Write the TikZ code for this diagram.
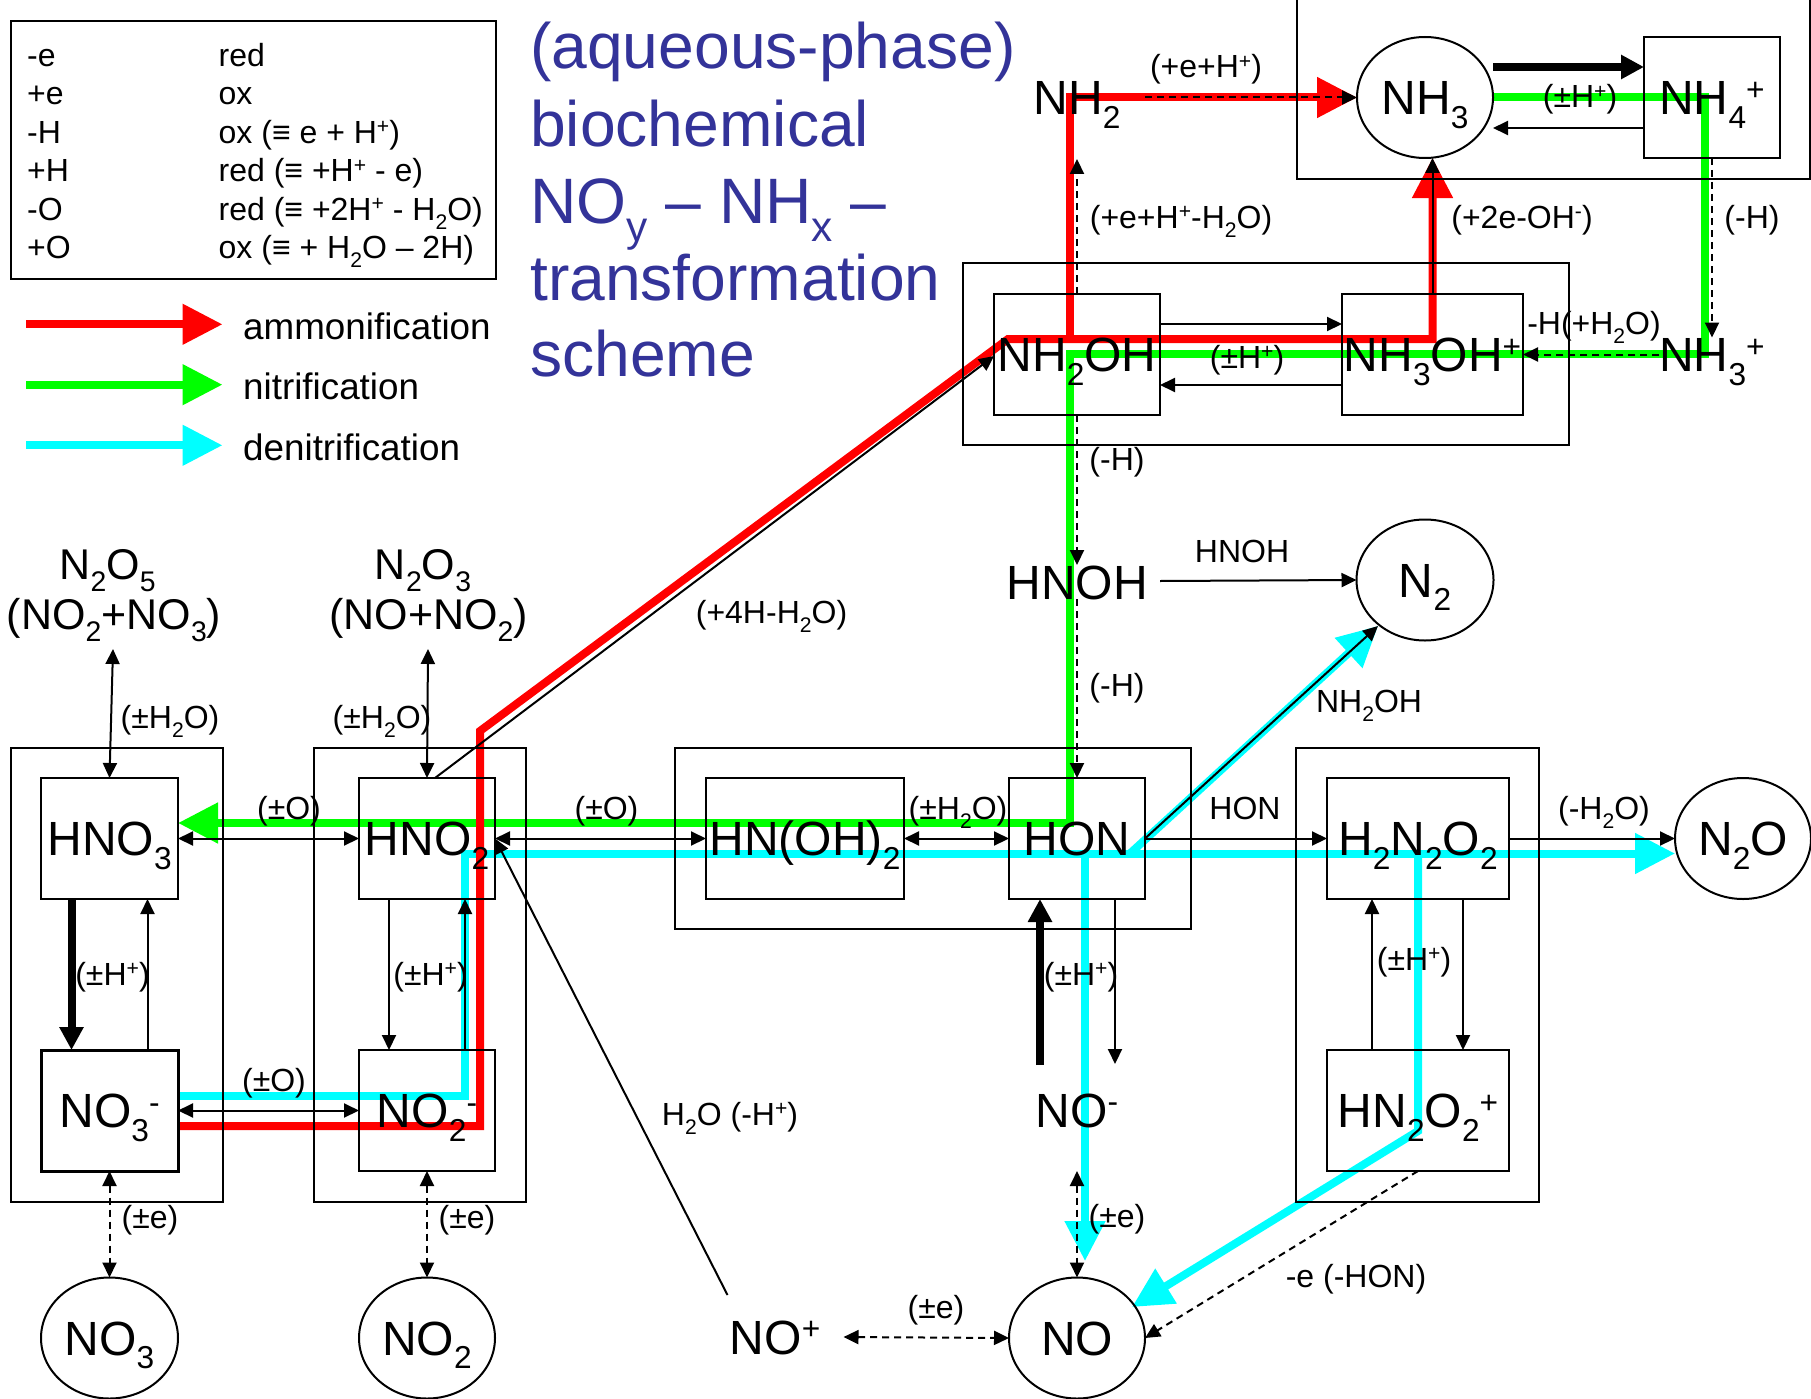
\documentclass[tikz,border=0pt]{standalone}
\usepackage{fontspec}
\setmainfont{Liberation Sans}
\usetikzlibrary{arrows.meta,shapes.geometric,backgrounds}
\definecolor{titleblue}{RGB}{51,51,153}
\definecolor{ammonred}{RGB}{255,0,0}
\definecolor{nitrigreen}{RGB}{0,255,0}
\definecolor{denitricyan}{RGB}{0,255,255}
\newcommand{\subtxt}[1]{\raisebox{-.29em}{\scalebox{.66}{#1}}}
\newcommand{\suptxt}[1]{\raisebox{.3em}{\scalebox{.66}{#1}}}
\tikzset{
	species/.style={inner sep=0pt, outer sep=0pt, font=\fontsize{48}{50}\selectfont, text height=34pt, text depth=0pt},
	spbox/.style={species, draw, line width=2pt, minimum height=121pt},
	spcircle/.style={species, draw, line width=2pt, ellipse, minimum height=121pt},
	groupbox/.style={draw, line width=2pt, inner sep=0pt, outer sep=0pt},
	note/.style={inner sep=0pt, anchor=base, font=\fontsize{32}{34}\selectfont},
	keytext/.style={inner sep=0pt, anchor=base west, font=\fontsize{32}{34}\selectfont},
	pathname/.style={inner sep=0pt, anchor=base west, font=\fontsize{36.8}{38}\selectfont},
	headline/.style={inner sep=0pt, anchor=base west, text=titleblue, font=\fontsize{64.2}{66}\selectfont},
	oxide/.style={inner sep=0pt, anchor=base, font=\fontsize{43}{45}\selectfont},
	link/.style={line width=2pt, >={Triangle[length=15pt,width=14pt]}},
	dashlink/.style={link, dash pattern=on 7pt off 5pt},
	heavylink/.style={line width=8pt, -{Triangle[length=23pt,width=23pt]}},
	routeline/.style={line width=8pt, line join=miter, -{Triangle[length=40pt,width=39pt]}},
	keyarrow/.style={line width=8pt, -{Triangle[length=40pt,width=39pt]}}
}
\begin{document}
\begin{tikzpicture}[x=1pt,y=-1pt]
	\useasboundingbox (0,0) rectangle (1811,1399);

	% Group frames
	\node[groupbox, minimum width=212pt, minimum height=454pt] (groupnitrate) at (117,975) {};
	\node[groupbox, minimum width=212pt, minimum height=454pt] (groupnitrite) at (420,975) {};
	\node[groupbox, minimum width=516pt, minimum height=181pt] (grouphon) at (933,838.5) {};
	\node[groupbox, minimum width=242.5pt, minimum height=454pt] (grouphyponitrous) at (1417.7,975) {};
	\node[groupbox, minimum width=606pt, minimum height=182pt] (grouphydroxylamine) at (1266,354) {};
	\draw[line width=2pt] (1296.5,0) -- (1296.5,179) -- (1810,179) -- (1810,0);

	% Key box
	\node[draw, line width=2.5pt, inner sep=0pt, minimum width=485pt, minimum height=258pt] (keybox) at (253.5,150) {};
	\node[keytext] (keyeminus) at (27,66.7) {-e};
	\node[keytext] (keyeplus) at (27,105) {+e};
	\node[keytext] (keyhminus) at (27,143.3) {-H};
	\node[keytext] (keyhplus) at (27,181.7) {+H};
	\node[keytext] (keyominus) at (27,220) {-O};
	\node[keytext] (keyoplus) at (27,258.3) {+O};
	\node[keytext] (meaneminus) at (218.5,66.7) {red};
	\node[keytext] (meaneplus) at (218.5,105) {ox};
	\node[keytext] (meanhminus) at (218.5,143.3) {ox (≡ e + H\suptxt{+})};
	\node[keytext] (meanhplus) at (218.5,181.7) {red (≡ +H\suptxt{+} - e)};
	\node[keytext] (meanominus) at (218.5,220) {red (≡ +2H\suptxt{+} - H\subtxt{2}O)};
	\node[keytext] (meanoplus) at (218.5,258.3) {ox (≡ + H\subtxt{2}O – 2H)};

	% Route key
	\node[pathname] (nameammon) at (243,339.3) {ammonification};
	\node[pathname] (namenitri) at (243,399.3) {nitrification};
	\node[pathname] (namedenitri) at (243,460) {denitrification};
	\coordinate (startammon) at (26,324.3);
	\coordinate (endammon) at (222.5,324.3);
	\coordinate (startnitri) at (26,384.7);
	\coordinate (endnitri) at (222.5,384.7);
	\coordinate (startdenitri) at (26,445.3);
	\coordinate (enddenitri) at (222.5,445.3);
	\draw[keyarrow, ammonred] (startammon) -- (endammon);
	\draw[keyarrow, nitrigreen] (startnitri) -- (endnitri);
	\draw[keyarrow, denitricyan] (startdenitri) -- (enddenitri);

	% Title
	\node[headline] (titleone) at (530,69) {(aqueous-phase)};
	\node[headline] (titletwo) at (530,147) {biochemical};
	\node[headline] (titlethree) at (530,223) {NO\subtxt{y} – NH\subtxt{x} –};
	\node[headline] (titlefour) at (530,300) {transformation};
	\node[headline] (titlefive) at (530,376) {scheme};

	% Species
	\node[spcircle, minimum width=136pt] (nhthree) at (1425,97.5) {NH\subtxt{3}};
	\node[spbox, minimum width=136pt] (nhfour) at (1712,97.5) {NH\subtxt{4}\suptxt{+}};
	\node[species] (nhtwo) at (1077,97.5) {NH\subtxt{2}};
	\node[spbox, minimum width=166pt] (nhtwooh) at (1077,354.5) {NH\subtxt{2}OH};
	\node[spbox, minimum width=181pt] (nhthreeoh) at (1432.5,354.5) {NH\subtxt{3}OH\suptxt{+}};
	\node[species] (nhthreeplus) at (1712,354.5) {NH\subtxt{3}\suptxt{+}};
	\node[species] (hnoh) at (1077,582) {HNOH};
	\node[spcircle, minimum width=137pt] (ntwo) at (1425,580) {N\subtxt{2}};
	\node[spbox, minimum width=137pt] (hnothree) at (109.5,838.5) {HNO\subtxt{3}};
	\node[spbox, minimum width=136pt] (hnotwo) at (427,838.5) {HNO\subtxt{2}};
	\node[spbox, minimum width=198pt] (hnoh2) at (805,838.5) {HN(OH)\subtxt{2}};
	\node[spbox, minimum width=136pt] (hon) at (1077,838.5) {HON};
	\node[spbox, minimum width=182pt] (htwontwo) at (1418,838.5) {H\subtxt{2}N\subtxt{2}O\subtxt{2}};
	\node[spcircle, minimum width=136pt] (ntwoo) at (1743,838.5) {N\subtxt{2}O};
	\node[spbox, line width=3pt, minimum width=137pt] (nothreeminus) at (109.5,1110.5) {NO\subtxt{3}\suptxt{-}};
	\node[spbox, minimum width=136pt] (notwominus) at (427,1110.5) {NO\subtxt{2}\suptxt{-}};
	\node[species] (nominus) at (1077,1110) {NO\suptxt{-}};
	\node[spbox, minimum width=182pt] (hntwo) at (1418,1110.5) {HN\subtxt{2}O\subtxt{2}\suptxt{+}};
	\node[spcircle, minimum width=137pt] (nothree) at (109.5,1338) {NO\subtxt{3}};
	\node[spcircle, minimum width=136pt] (notwo) at (427,1338) {NO\subtxt{2}};
	\node[species] (noplus) at (775,1337) {NO\suptxt{+}};
	\node[spcircle, minimum width=136pt] (no) at (1077,1338) {NO};

	% Oxides
	\node[oxide] (ntwoofive) at (107.5,579) {N\subtxt{2}O\subtxt{5}};
	\node[oxide] (ntwoofivepair) at (114,629) {(NO\subtxt{2}+NO\subtxt{3})};
	\node[oxide] (ntwoothree) at (423,579) {N\subtxt{2}O\subtxt{3}};
	\node[oxide] (ntwoothreepair) at (428.5,629) {(NO+NO\subtxt{2})};
	\coordinate (fivefoot) at (113,649);
	\coordinate (threefoot) at (428,649);

	% Coordinates of the routes
	\coordinate (redstart) at (178,1126);
	\coordinate (redcornera) at (480,1126);
	\coordinate (redcornerb) at (480,731);
	\coordinate (redcornerc) at (1008,339);
	\coordinate (redbranch) at (1070,339);
	\coordinate (redcornerd) at (1432.5,339);
	\coordinate (redcornere) at (1070,97.5);
	\coordinate (greenstart) at (1493,97.5);
	\coordinate (greencornera) at (1705,97.5);
	\coordinate (greencornerb) at (1705,354);
	\coordinate (greencornerc) at (1070,354);
	\coordinate (greencornerd) at (1070,823);
	\coordinate (greenend) at (178,823);
	\coordinate (cyanstart) at (178,1096);
	\coordinate (cyancornera) at (465,1096);
	\coordinate (cyancornerb) at (465,853.5);
	\coordinate (cyanend) at (1675,853.5);
	\coordinate (cyanhon) at (1085,853.5);
	\coordinate (cyanhonend) at (1085,1261);
	\coordinate (cyantilt) at (1130,853.5);
	\coordinate (ntwotip) at (1378,626);
	\coordinate (cyanhyper) at (1418,853.5);
	\coordinate (cyanhypera) at (1418,1131);
	\coordinate (notip) at (1132,1307);

	% Routes under everything
	\begin{scope}[on background layer]
		\draw[routeline, denitricyan] (cyanhon) -- (cyanhonend);
		\draw[routeline, denitricyan] (cyantilt) -- (ntwotip);
		\draw[routeline, denitricyan] (cyanhyper) -- (cyanhypera) -- (notip);
		\draw[routeline, denitricyan] (cyanstart) -- (cyancornera) -- (cyancornerb) -- (cyanend);
		\draw[routeline, nitrigreen] (greenstart) -- (greencornera) -- (greencornerb) -- (greencornerc) -- (greencornerd) -- (greenend);
		\draw[routeline, ammonred] (redbranch) -- (redcornere) -- (nhthree.west);
		\draw[routeline, ammonred] (redstart) -- (redcornera) -- (redcornerb) -- (redcornerc) -- (redcornerd) -- (nhthreeoh.north |- nhthree.south);
	\end{scope}

	% Links of the upper part
	\draw[heavylink] (nhthree.east |- 0,67) -- (nhfour.west |- 0,67);
	\draw[link, ->] (nhfour.west |- 0,128) -- (nhthree.east |- 0,128);
	\draw[dashlink, ->] (1145,97.5) -- (nhthree.west);
	\draw[dashlink, ->] (nhtwooh.north) -- (1077,159);
	\draw[link, ->] (nhthreeoh.north) -- (nhthreeoh.north |- nhthree.south);
	\draw[link, ->] (nhtwooh.east |- 0,324) -- (nhthreeoh.west |- 0,324);
	\draw[link, ->] (nhthreeoh.west |- 0,385) -- (nhtwooh.east |- 0,385);
	\draw[dashlink, ->] (nhfour.south) -- (nhthreeplus.north);
	\draw[dashlink, ->] (nhthreeplus.west) -- (nhthreeoh.east);
	\draw[dashlink, ->] (nhtwooh.south) -- (hnoh.north);
	\draw[dashlink, ->] (hnoh.south) -- (hon.north);
	\draw[link, ->] (1160,581) -- (ntwo.west);
	\draw[link, ->] (hnotwo.north -| 435,0) -- (nhtwooh.west |- 0,356);

	% Links of the row of boxes
	\draw[link, <->] (hnothree.east) -- (hnotwo.west);
	\draw[link, <->] (hnotwo.east) -- (hnoh2.west);
	\draw[link, <->] (hnoh2.east) -- (hon.west);
	\draw[link, ->] (hon.east) -- (htwontwo.west);
	\draw[link, ->] (htwontwo.east) -- (ntwoo.west);
	\draw[link, ->] (hon.east) -- (ntwotip);
	\draw[link, <->] (fivefoot) -- (hnothree.north);
	\draw[link, <->] (threefoot) -- (hnotwo.north);

	% Links of the lower part
	\draw[heavylink] (hnothree.south -| 71.5,0) -- (nothreeminus.north -| 71.5,0);
	\draw[link, ->] (nothreeminus.north -| 147.5,0) -- (hnothree.south -| 147.5,0);
	\draw[link, ->] (hnotwo.south -| 389,0) -- (notwominus.north -| 389,0);
	\draw[link, ->] (notwominus.north -| 465,0) -- (hnotwo.south -| 465,0);
	\draw[link, <->] (nothreeminus.east) -- (notwominus.west);
	\draw[dashlink, <->] (nothreeminus.south) -- (nothree.north);
	\draw[dashlink, <->] (notwominus.south) -- (notwo.north);
	\draw[heavylink] (nominus.north -| 1040,0) ++(0,-28) -- (hon.south -| 1040,0);
	\draw[link, ->] (hon.south -| 1115,0) -- (1115,1064);
	\draw[dashlink, <->] (nominus.south) ++(0,44) -- (no.north);
	\draw[link, ->] (htwontwo.south -| 1463,0) -- (hntwo.north -| 1463,0);
	\draw[link, ->] (hntwo.north -| 1372,0) -- (htwontwo.south -| 1372,0);
	\draw[dashlink, ->] (hntwo.south) -- (no.east);
	\draw[dashlink, <->] (843.5,1337) -- (no.west);
	\draw[link, ->] (727.5,1295) -- (hnotwo.east);

	% Labels
	\node[note] (lbla) at (1206,78) {(+e+H\suptxt{+})};
	\node[note] (lblb) at (1580,108) {(±H\suptxt{+})};
	\node[note] (lblc) at (1181,228) {(+e+H\suptxt{+}-H\subtxt{2}O)};
	\node[note] (lbld) at (1522,228) {(+2e-OH\suptxt{-})};
	\node[note] (lble) at (1752,228) {(-H)};
	\node[note] (lblf) at (1594,334) {-H(+H\subtxt{2}O)};
	\node[note] (lblg) at (1247,368) {(±H\suptxt{+})};
	\node[note] (lblh) at (1117,470) {(-H)};
	\node[note] (lbli) at (1117,696) {(-H)};
	\node[note] (lblj) at (1242,562) {HNOH};
	\node[note] (lblk) at (771.5,623) {(+4H-H\subtxt{2}O)};
	\node[note] (lbll) at (1369,712) {NH\subtxt{2}OH};
	\node[note] (lblm) at (170,728) {(±H\subtxt{2}O)};
	\node[note] (lbln) at (382,728) {(±H\subtxt{2}O)};
	\node[note] (lblo) at (289,819) {(±O)};
	\node[note] (lblp) at (606.5,819) {(±O)};
	\node[note] (lblq) at (958,819) {(±H\subtxt{2}O)};
	\node[note] (lblr) at (1245,819) {HON};
	\node[note] (lbls) at (1604,819) {(-H\subtxt{2}O)};
	\node[note] (lblt) at (112.5,985) {(±H\suptxt{+})};
	\node[note] (lblu) at (430.5,985) {(±H\suptxt{+})};
	\node[note] (lblv) at (1081,985) {(±H\suptxt{+})};
	\node[note] (lblw) at (1414,970) {(±H\suptxt{+})};
	\node[note] (lblx) at (274,1091) {(±O)};
	\node[note] (lbly) at (730,1125) {H\subtxt{2}O (-H\suptxt{+})};
	\node[note] (lblz) at (150,1228) {(±e)};
	\node[note] (lblaa) at (467,1228) {(±e)};
	\node[note] (lblab) at (1117,1227) {(±e)};
	\node[note] (lblac) at (1356,1287) {-e (-HON)};
	\node[note] (lblad) at (936,1318) {(±e)};
\end{tikzpicture}
\end{document}
